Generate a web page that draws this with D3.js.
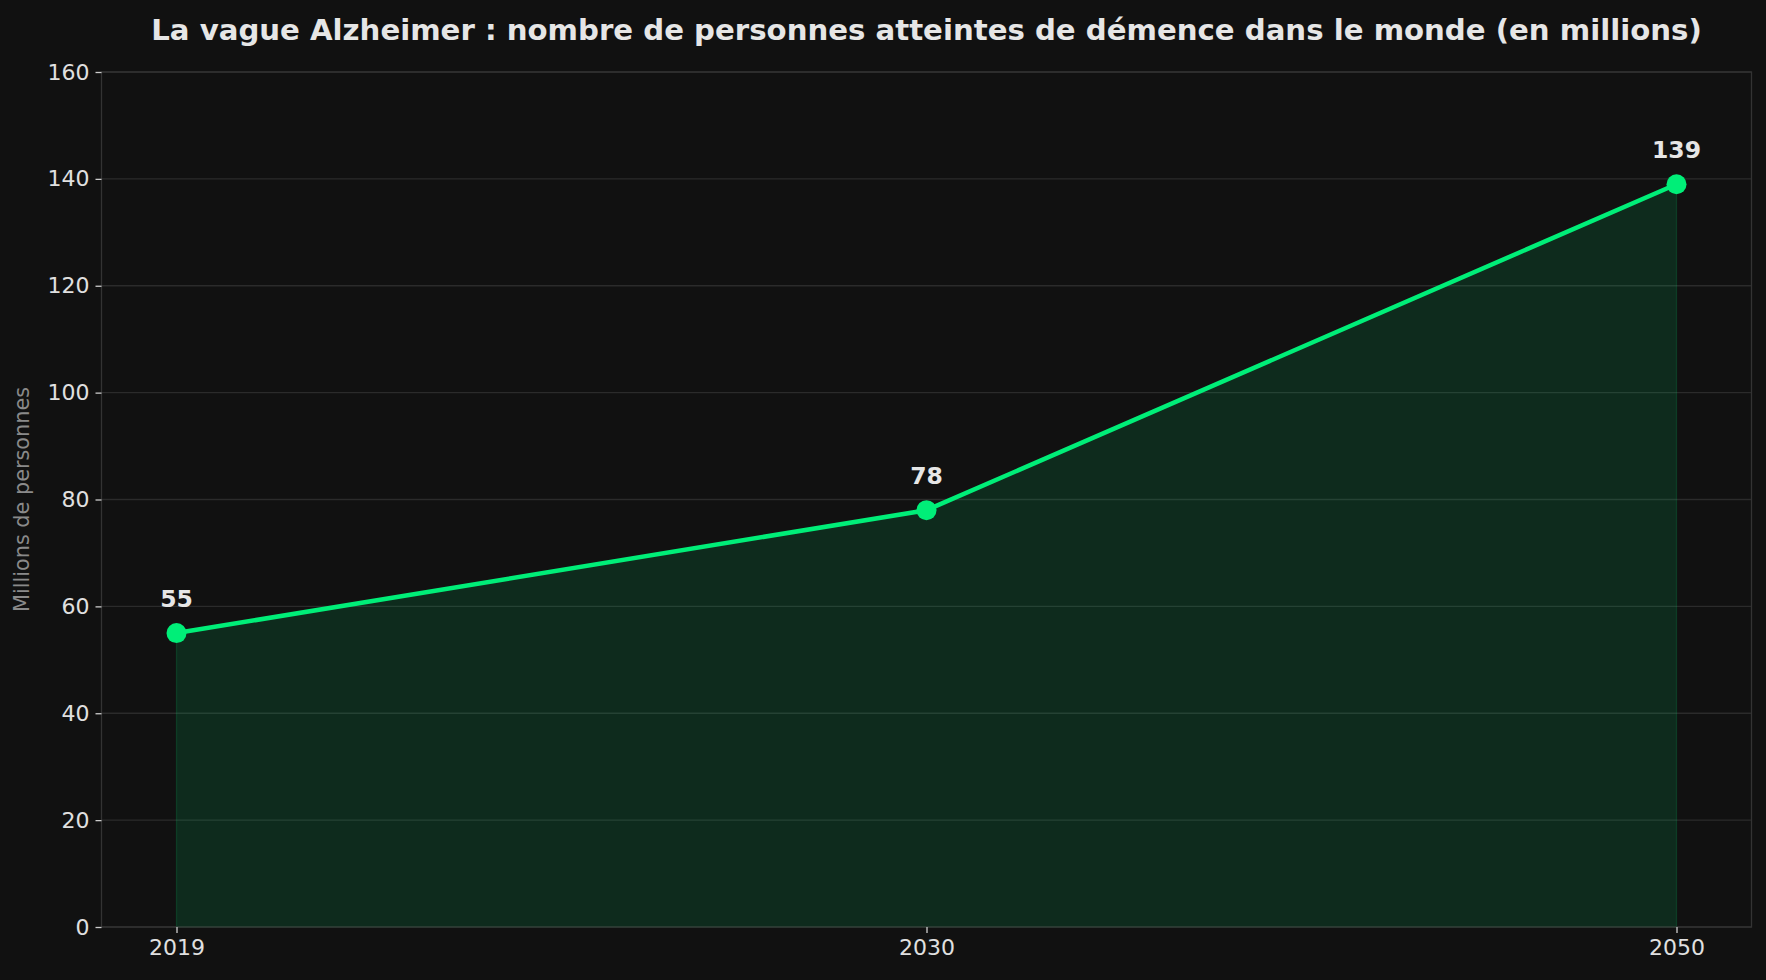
<!DOCTYPE html>
<html>
<head>
<meta charset="utf-8">
<script src="https://cdn.jsdelivr.net/npm/d3@7"></script>
<style>
  html, body { margin: 0; padding: 0; background: #111111; }
  svg { display: block; font-family: "DejaVu Sans", sans-serif; }
</style>
</head>
<body>
<svg width="1766" height="980"></svg>
<script>
// donnees
var years = ["2019", "2030", "2050"]
var values = [55, 78, 139]
var yTicks = [0, 20, 40, 60, 80, 100, 120, 140, 160]
var titleText = "La vague Alzheimer : nombre de personnes atteintes de démence dans le monde (en millions)"
var yLabelText = "Millions de personnes"

var data = years.map((y, i) => ({ year: y, value: values[i] }))

var svg = d3.select("svg")
var W = +svg.attr("width"), H = +svg.attr("height")
var m = { left: 101.5, right: 1751.5, top: 72, bottom: 927 }
var green = "#00ee78"

svg.append("rect").attr("width", W).attr("height", H).attr("fill", "#111111")

var scX = d3.scalePoint()
    .domain(years)
    .range([m.left, m.right])
    .padding(0.1)

var scY = d3.scaleLinear()
    .domain([0, 160])
    .range([m.bottom, m.top])

// grille horizontale
svg.append("g")
    .selectAll("line")
    .data(yTicks)
    .enter().append("line")
    .attr("x1", m.left).attr("x2", m.right)
    .attr("y1", d => scY(d)).attr("y2", d => scY(d))
    .attr("stroke", "#2b2b2b").attr("stroke-width", 1.3)

// aire
var areaMkr = d3.area()
    .x(d => scX(d.year))
    .y0(scY(0))
    .y1(d => scY(d.value))

svg.append("path")
    .attr("d", areaMkr(data))
    .attr("fill", green).attr("fill-opacity", 0.12)
    .attr("stroke", green).attr("stroke-opacity", 0.15).attr("stroke-width", 1.3)

// cadre
svg.append("rect")
    .attr("x", m.left).attr("y", m.top)
    .attr("width", m.right - m.left).attr("height", m.bottom - m.top)
    .attr("fill", "none").attr("stroke", "#333333").attr("stroke-width", 1.3)

// axes
var axY = svg.append("g")
    .attr("transform", `translate(${m.left},0)`)
    .call(d3.axisLeft(scY).tickValues(yTicks).tickSize(6).tickPadding(6))
var axX = svg.append("g")
    .attr("transform", `translate(0,${m.bottom})`)
    .call(d3.axisBottom(scX).tickSize(6).tickPadding(6))

;[axY, axX].forEach(function (g) {
    g.select(".domain").remove()
    g.selectAll(".tick line").attr("stroke", "#cccccc").attr("stroke-width", 1.3)
    g.selectAll(".tick text")
        .attr("fill", "#e0e0e0")
        .attr("font-size", 22)
        .attr("font-family", "DejaVu Sans, sans-serif")
})

// ligne
var lineMkr = d3.line()
    .x(d => scX(d.year))
    .y(d => scY(d.value))

svg.append("path")
    .attr("d", lineMkr(data))
    .attr("fill", "none")
    .attr("stroke", green).attr("stroke-width", 4.5)
    .attr("stroke-linejoin", "round")

svg.append("g")
    .selectAll("circle")
    .data(data).enter().append("circle")
    .attr("cx", d => scX(d.year))
    .attr("cy", d => scY(d.value))
    .attr("r", 10)
    .attr("fill", green)

// etiquettes de valeurs
svg.append("g")
    .selectAll("text")
    .data(data).enter().append("text")
    .attr("x", d => scX(d.year))
    .attr("y", d => scY(d.value) - 26)
    .attr("text-anchor", "middle")
    .attr("font-size", 23.5).attr("font-weight", "bold")
    .attr("fill", "#e6e6e6")
    .text(d => d.value)

// titre
svg.append("text")
    .attr("x", (m.left + m.right) / 2)
    .attr("y", 39.5)
    .attr("text-anchor", "middle")
    .attr("font-size", 29.2).attr("font-weight", "bold")
    .attr("fill", "#e6e6e6")
    .text(titleText)

// titre axe y
svg.append("text")
    .attr("transform", `translate(29,${(m.top + m.bottom) / 2}) rotate(-90)`)
    .attr("text-anchor", "middle")
    .attr("font-size", 20.8)
    .attr("fill", "#8a8a8a")
    .text(yLabelText)
</script>
</body>
</html>
